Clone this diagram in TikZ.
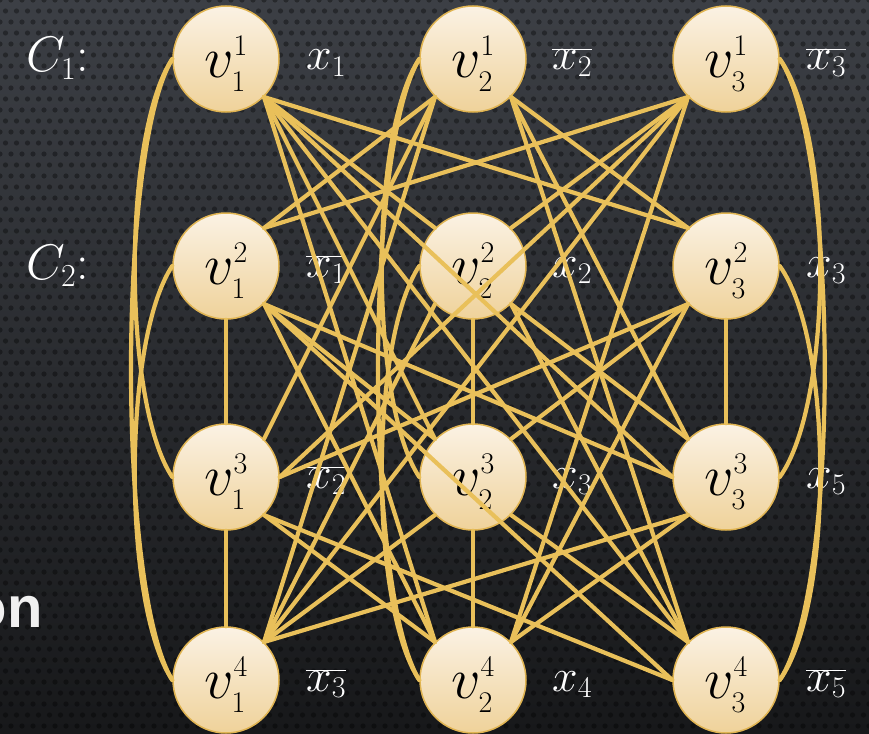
\RequirePackage{fix-cm}
\documentclass[tikz,border=0pt]{standalone}
\usepackage{fontspec}
\newfontfamily\headfont{Liberation Sans}
\DeclareMathSizes{58}{58}{30}{22}
\DeclareMathSizes{46}{46}{30}{22}
\DeclareMathSizes{50}{50}{32}{24}

\definecolor{gold}{HTML}{E9C05A}
\definecolor{goldrim}{HTML}{E0B452}
\definecolor{creamtop}{HTML}{FBF2E4}
\definecolor{creambot}{HTML}{EFD29A}
\definecolor{slatetop}{HTML}{3C3F45}
\definecolor{slatebot}{HTML}{17181A}

\tikzstyle{lit}=[circle, draw=goldrim, line width=1.5pt, top color=creamtop, bottom color=creambot, minimum size=106pt, inner sep=0pt, font=\fontsize{58}{58}\selectfont]
\tikzstyle{tag}=[text=white, anchor=base west, inner sep=0pt, font=\fontsize{46}{46}\selectfont]
\tikzstyle{clause}=[tag, font=\fontsize{50}{50}\selectfont]
\tikzstyle{edge}=[draw=gold, line width=4.2pt, line cap=round]

\newcommand{\lit}[2]{\raisebox{-5pt}[\height][\depth]{$v^{#2}_{#1}$}}

\begin{document}
\begin{tikzpicture}[x=1pt,y=-1pt]
  \useasboundingbox (0,0) rectangle (869,733);
  % dark dotted backdrop
  \shade[top color=slatetop, bottom color=slatebot] (0,0) rectangle (869,733);
  \foreach \j in {0,...,33} {
    \fill[black, opacity=0.35] \foreach \i in {0,...,79} {(\i*11, \j*22) circle (2.6)};
    \fill[black, opacity=0.35] \foreach \i in {0,...,79} {(\i*11+5.5, \j*22+11) circle (2.6)};
  }
  \node[anchor=base east, text=white!94!black, font=\headfont\bfseries\fontsize{58}{58}\selectfont, inner sep=0pt] (title) at (43,627) {on};

  % clause labels
  \node[clause] (c1) at (26,72) {$C_1$:};
  \node[clause] (c2) at (26,279) {$C_2$:};

  % literal labels
  \node[tag] (t11) at (306,70) {$x_1$};
  \node[tag] (t21) at (552,70) {$\overline{x_2}$};
  \node[tag] (t31) at (806,70) {$\overline{x_3}$};
  \node[tag] (t12) at (306,277) {$\overline{x_1}$};
  \node[tag] (t22) at (552,277) {$x_2$};
  \node[tag] (t32) at (806,277) {$x_3$};
  \node[tag] (t13) at (306,488) {$\overline{x_2}$};
  \node[tag] (t23) at (552,488) {$x_3$};
  \node[tag] (t33) at (806,488) {$x_5$};
  \node[tag] (t14) at (306,691) {$\overline{x_3}$};
  \node[tag] (t24) at (552,691) {$x_4$};
  \node[tag] (t34) at (806,691) {$\overline{x_5}$};

  % vertices, column by column
  \node[lit] (v11) at (226,59) {\lit{1}{1}};
  \node[lit] (v12) at (226,266) {\lit{1}{2}};
  \node[lit] (v13) at (226,477) {\lit{1}{3}};
  \node[lit] (v14) at (226,680) {\lit{1}{4}};
  \node[lit] (v21) at (473,59) {\lit{2}{1}};
  \node[lit] (v22) at (473,266) {\lit{2}{2}};
  \node[lit] (v23) at (473,477) {\lit{2}{3}};
  \node[lit] (v24) at (473,680) {\lit{2}{4}};
  \node[lit] (v31) at (726,59) {\lit{3}{1}};
  \node[lit] (v32) at (726,266) {\lit{3}{2}};
  \node[lit] (v33) at (726,477) {\lit{3}{3}};
  \node[lit] (v34) at (726,680) {\lit{3}{4}};

  % edges inside a column
  \foreach \a/\b in {v12/v13, v13/v14, v22/v23, v23/v24, v32/v33}
    \draw[edge] (\a.south) -- (\b.north);
  \foreach \c in {1,2} {
    \draw[edge] (v\c1.west) .. controls +(-50,75) and +(-50,-75) .. (v\c3.west);
    \draw[edge] (v\c1.west) .. controls +(-55,90) and +(-55,-90) .. (v\c4.west);
    \draw[edge] (v\c2.west) .. controls +(-50,75) and +(-50,-75) .. (v\c4.west);
  }
  \draw[edge] (v31.east) .. controls +(54,75) and +(54,-75) .. (v33.east);
  \draw[edge] (v31.east) .. controls +(60,90) and +(60,-90) .. (v34.east);
  \draw[edge] (v32.east) .. controls +(54,75) and +(54,-75) .. (v34.east);

  % edges across columns
  \foreach \a/\b in {
      v11.south east/v22.north west, v11.south east/v32.north west,
      v21.south west/v12.north east, v21.south east/v32.north west,
      v31.south west/v12.north east, v31.south west/v22.north east,
      v11.south east/v23.north west, v11.south east/v33.west,
      v21.south west/v13.north east, v21.south east/v33.north west,
      v31.south west/v13.east,
      v11.south east/v24.north west, v11.south east/v34.north west,
      v21.south west/v14.north east, v21.south east/v34.north west,
      v31.south west/v14.north east, v31.south west/v24.north east,
      v12.south east/v23.north west, v12.south east/v33.west,
      v22.south east/v33.north west,
      v32.south west/v13.east, v32.south west/v23.north east,
      v12.south east/v24.north west, v12.south east/v34.west,
      v22.south west/v14.north east, v22.south east/v34.north west,
      v32.south west/v24.north east,
      v13.south east/v24.north west, v13.south east/v34.west,
      v23.south west/v14.north east, v23.south east/v34.north west,
      v33.south west/v14.north east, v33.south west/v24.north east}
    \draw[edge] (\a) -- (\b);
\end{tikzpicture}
\end{document}
